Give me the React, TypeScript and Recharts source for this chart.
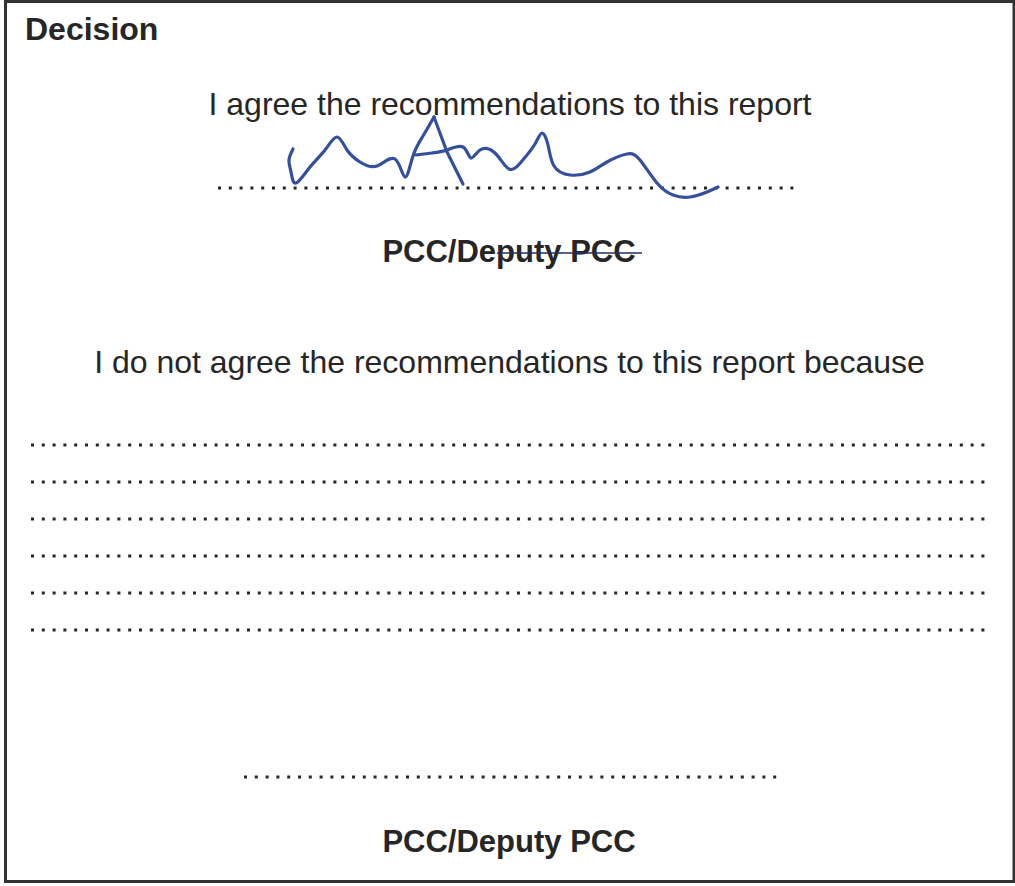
import { LineChart, Line, XAxis, YAxis, Customized } from 'recharts'

// page-space coordinates (x → right, y → down)
const signatureHook = [
  { x: 293, y: 149 }, { x: 289, y: 160 }, { x: 291, y: 172 }, { x: 296, y: 183 },
  { x: 310, y: 167 }, { x: 325, y: 150 }, { x: 337, y: 137 }, { x: 347, y: 150 },
  { x: 360, y: 162 }, { x: 377, y: 166 }, { x: 395, y: 159 }, { x: 405, y: 177 },
  { x: 413, y: 156 }, { x: 423, y: 136 }, { x: 434, y: 117 },
]
const signatureLeg = [
  { x: 434, y: 117 }, { x: 447, y: 152 }, { x: 463, y: 184 },
]
const signatureTail = [
  { x: 416, y: 155 }, { x: 432, y: 153 }, { x: 447, y: 150 }, { x: 463, y: 147 },
  { x: 471, y: 158 }, { x: 480, y: 150 }, { x: 495, y: 153 }, { x: 509, y: 169 },
  { x: 522, y: 161 }, { x: 535, y: 144 }, { x: 542, y: 133 }, { x: 548, y: 145 },
  { x: 554, y: 166 }, { x: 570, y: 175 }, { x: 590, y: 172 }, { x: 607, y: 162 },
  { x: 627, y: 154 }, { x: 640, y: 160 }, { x: 657, y: 183 }, { x: 673, y: 195 },
  { x: 690, y: 197 }, { x: 707, y: 192 }, { x: 718, y: 187 },
]

// dotted writing lines: [y, xStart, xEnd]
const signLine = [188, 218, 800]
const reasonRows = [445, 482, 519, 556, 593, 630]
const reasonSpan = [31, 990]
const bottomSignLine = [777, 244, 777]

const TITLE = 'Decision'
const AGREE = 'I agree the recommendations to this report'
const DISAGREE = 'I do not agree the recommendations to this report because'
const ROLE = 'PCC/Deputy PCC'

const W = 1015
const H = 886
const INK = '#262626'
const PEN = '#34509c'
const FONT = '"Liberation Sans", Arial, Helvetica, sans-serif'

const seg = (y: number, x1: number, x2: number) => [{ x: x1, y }, { x: x2, y }]

function FormText() {
  return (
    <g fontFamily={FONT} fill={INK}>
      <rect x={5.5} y={1.5} width={1008.5} height={880} fill="none" stroke="#333" strokeWidth={3} />
      <text x={25} y={40} fontSize={32} fontWeight="bold">{TITLE}</text>
      <text x={510} y={115} fontSize={32} textAnchor="middle">{AGREE}</text>
      <text x={509} y={262} fontSize={31} fontWeight="bold" textAnchor="middle">{ROLE}</text>
      <line x1={497} y1={253} x2={642} y2={253} stroke="#23305e" strokeWidth={1.6} />
      <text x={509.5} y={373} fontSize={32} textAnchor="middle">{DISAGREE}</text>
      <text x={509} y={852} fontSize={31} fontWeight="bold" textAnchor="middle">{ROLE}</text>
    </g>
  )
}

export default function App() {
  const rules = [
    seg(signLine[0], signLine[1], signLine[2]),
    ...reasonRows.map((y) => seg(y, reasonSpan[0], reasonSpan[1])),
    seg(bottomSignLine[0], bottomSignLine[1], bottomSignLine[2]),
  ]
  const strokes = [
    { data: signatureHook, type: 'natural' as const },
    { data: signatureLeg, type: 'linear' as const },
    { data: signatureTail, type: 'natural' as const },
  ]
  return (
    <div style={{ position: 'absolute', left: 0, top: 0, width: W, height: H, background: '#fff' }}>
      <LineChart width={W} height={H} margin={{ top: 0, right: 0, bottom: 0, left: 0 }}>
        <XAxis type="number" dataKey="x" domain={[0, W]} hide allowDataOverflow />
        <YAxis type="number" dataKey="y" domain={[0, H]} reversed hide allowDataOverflow />
        <Customized component={<FormText />} />

        {rules.map((d, i) => (
          <Line
            key={`rule-${i}`}
            data={d}
            dataKey="y"
            type="linear"
            stroke={INK}
            strokeWidth={3}
            strokeDasharray="3 7.8"
            strokeLinecap="butt"
            dot={false}
            activeDot={false}
            isAnimationActive={false}
          />
        ))}

        {strokes.map((s, i) => (
          <Line
            key={`sig-${i}`}
            data={s.data}
            dataKey="y"
            type={s.type}
            stroke={PEN}
            strokeWidth={3.2}
            strokeLinecap="round"
            strokeLinejoin="round"
            dot={false}
            activeDot={false}
            isAnimationActive={false}
          />
        ))}
      </LineChart>
    </div>
  )
}
